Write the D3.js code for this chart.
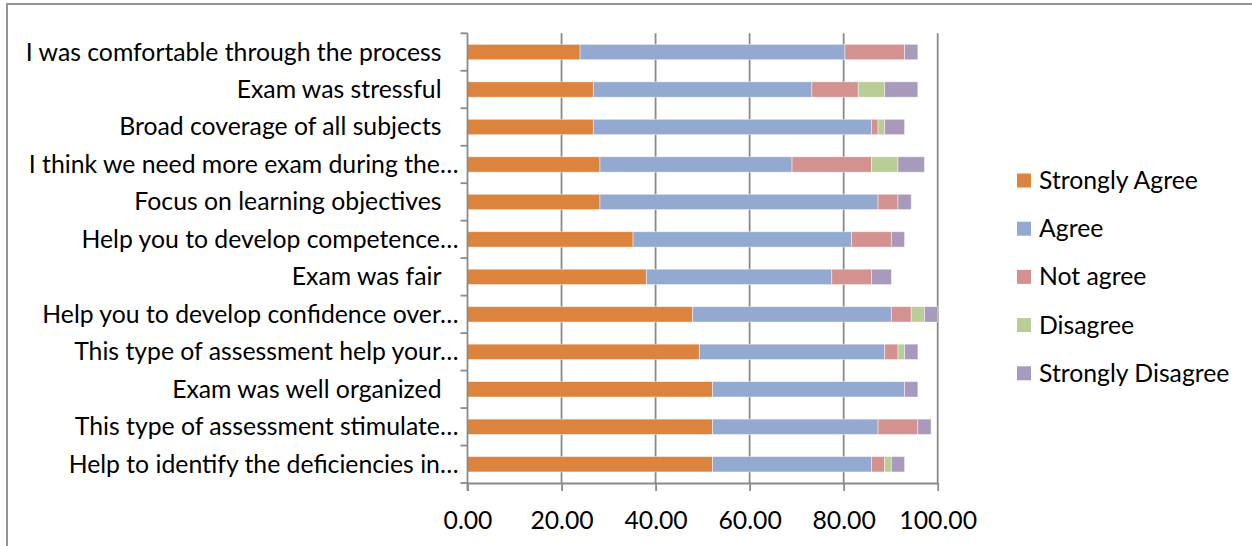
<!DOCTYPE html>
<html>
<head>
<meta charset="utf-8">
<script src="https://cdn.jsdelivr.net/npm/d3@7"></script>
<style>
  html, body { margin: 0; padding: 0; background: #fff; }
  svg { display: block; }
  text { font-family: Lato, "Open Sans", sans-serif; fill: #000; }
</style>
</head>
<body>
<svg id="chart" width="1252" height="546"></svg>
<script>
// Survey statements, top to bottom
const categories = [
  "I was comfortable through the process",
  "Exam was stressful",
  "Broad coverage of all subjects",
  "I think we need more exam during the…",
  "Focus on learning objectives",
  "Help you to develop competence…",
  "Exam was fair",
  "Help you to develop confidence over…",
  "This type of assessment help your…",
  "Exam was well organized",
  "This type of assessment stimulate…",
  "Help to identify the deficiencies in…"
];

// Percentage of respondents per answer
const stronglyAgree    = [23.94, 26.76, 26.76, 28.17, 28.17, 35.21, 38.03, 47.89, 49.30, 52.11, 52.11, 52.11];
const agree            = [56.34, 46.48, 59.15, 40.85, 59.15, 46.48, 39.44, 42.25, 39.44, 40.85, 35.21, 33.80];
const notAgree         = [12.68,  9.86,  1.41, 16.90,  4.23,  8.45,  8.45,  4.23,  2.82,  0.00,  8.45,  2.82];
const disagree         = [ 0.00,  5.63,  1.41,  5.63,  0.00,  0.00,  0.00,  2.82,  1.41,  0.00,  0.00,  1.41];
const stronglyDisagree = [ 2.82,  7.04,  4.23,  5.63,  2.82,  2.82,  4.23,  2.82,  2.82,  2.82,  2.82,  2.82];

const seriesNames = ["Strongly Agree", "Agree", "Not agree", "Disagree", "Strongly Disagree"];
const seriesValues = [stronglyAgree, agree, notAgree, disagree, stronglyDisagree];
const seriesColors = ["#dc843d", "#94a9d0", "#d39190", "#b9cd96", "#a899bd"];

const xTicks = [0, 20, 40, 60, 80, 100];

const rows = categories.map((c, i) => {
  const r = { category: c };
  seriesNames.forEach((s, k) => { r[s] = seriesValues[k][i]; });
  return r;
});

const svg = d3.select("#chart");
const plot = { left: 467.5, right: 937.7, top: 33.3, bottom: 483 };
const axisColor = "#8a8a8a";
const fontSize = 24;

// Chart frame
svg.append("rect")
  .attr("x", 7).attr("y", 4)
  .attr("width", 1260).attr("height", 600)
  .attr("fill", "none")
  .attr("stroke", axisColor)
  .attr("stroke-width", 1.8);

const x = d3.scaleLinear().domain([0, 100]).range([plot.left, plot.right]);
const y = d3.scaleBand()
  .domain(categories)
  .range([plot.top, plot.bottom])
  .paddingInner(0.59)
  .paddingOuter(0.295);
const color = d3.scaleOrdinal().domain(seriesNames).range(seriesColors);

// Vertical gridlines
svg.append("g")
  .selectAll("line")
  .data(xTicks.filter(t => t > 0))
  .join("line")
  .attr("x1", d => x(d)).attr("x2", d => x(d))
  .attr("y1", plot.top).attr("y2", plot.bottom)
  .attr("stroke", axisColor)
  .attr("stroke-width", 1.8);

// Stacked bars
const stack = d3.stack().keys(seriesNames)(rows);
svg.append("g")
  .selectAll("g")
  .data(stack)
  .join("g")
  .attr("fill", d => color(d.key))
  .selectAll("rect")
  .data(d => d.filter(p => p[1] - p[0] > 0))
  .join("rect")
  .attr("x", d => x(d[0]))
  .attr("y", d => y(d.data.category))
  .attr("width", d => x(d[1]) - x(d[0]))
  .attr("height", y.bandwidth())
  .attr("stroke", "#ffffff")
  .attr("stroke-opacity", 0.55)
  .attr("stroke-width", 0.8);

// X axis
const xAxis = svg.append("g")
  .attr("transform", `translate(0,${plot.bottom})`)
  .call(d3.axisBottom(x).tickValues(xTicks).tickFormat(d3.format(".2f")).tickSizeInner(8).tickSizeOuter(0).tickPadding(20));
xAxis.select(".domain").attr("stroke", axisColor).attr("stroke-width", 1.8);
xAxis.selectAll(".tick line").attr("stroke", axisColor).attr("stroke-width", 1.8);
xAxis.selectAll(".tick text").attr("font-size", fontSize).attr("font-family", null);

// Y axis line with tick marks between categories
const yAxis = svg.append("g");
yAxis.append("line")
  .attr("x1", plot.left).attr("x2", plot.left)
  .attr("y1", plot.top).attr("y2", plot.bottom + 8)
  .attr("stroke", axisColor).attr("stroke-width", 1.8);
const boundaries = d3.range(categories.length + 1).map(i => plot.top + i * y.step());
yAxis.selectAll("line.tick")
  .data(boundaries)
  .join("line")
  .attr("class", "tick")
  .attr("x1", plot.left - 7).attr("x2", plot.left)
  .attr("y1", d => d).attr("y2", d => d)
  .attr("stroke", axisColor).attr("stroke-width", 1.8);

// Category labels, sized so the longest full label spans the same width as in Calibri
const probe = svg.append("text").attr("font-size", fontSize).text(categories[0]);
const k = 416 / probe.node().getComputedTextLength();
probe.remove();
const labelSize = fontSize * k;

svg.append("g")
  .selectAll("text")
  .data(categories)
  .join("text")
  .attr("x", d => plot.left - (d.endsWith("…") ? 9 : 26))
  .attr("y", d => y(d) + y.bandwidth() / 2 + 8.5)
  .attr("text-anchor", "end")
  .attr("font-size", labelSize)
  .text(d => d);

xAxis.selectAll(".tick text").attr("font-size", labelSize);

// Legend
const legend = svg.append("g")
  .selectAll("g")
  .data(seriesNames)
  .join("g")
  .attr("transform", (d, i) => `translate(1017,${180.5 + i * 48.2})`);
legend.append("rect")
  .attr("x", 0).attr("y", -7)
  .attr("width", 14).attr("height", 14)
  .attr("fill", d => color(d));
legend.append("text")
  .attr("x", 22).attr("y", 8.5)
  .attr("font-size", labelSize)
  .text(d => d);
</script>
</body>
</html>
